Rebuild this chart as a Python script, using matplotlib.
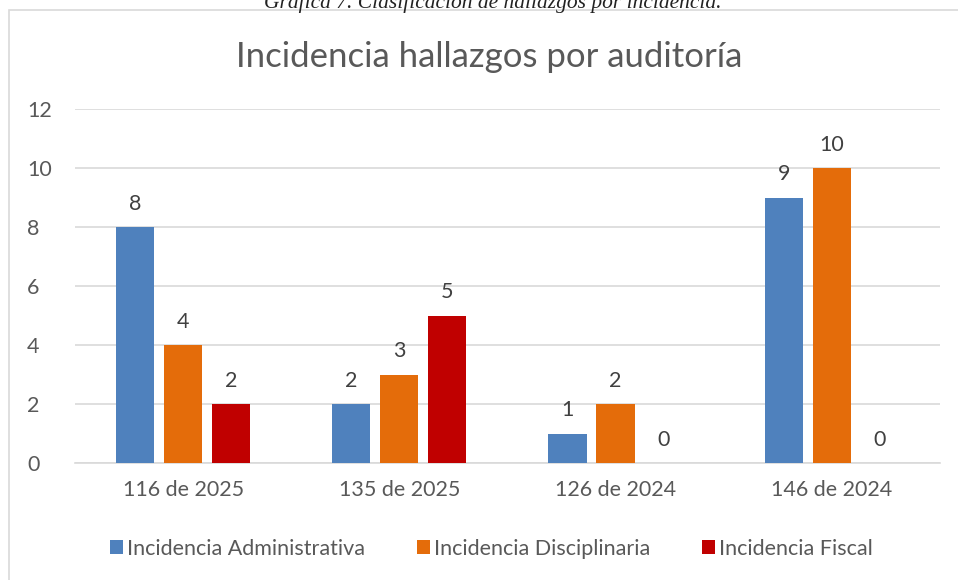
import matplotlib.pyplot as plt
import numpy as np
from matplotlib.patches import Rectangle

categories = ["116 de 2025", "135 de 2025", "126 de 2024", "146 de 2024"]
series_names = ["Incidencia Administrativa", "Incidencia Disciplinaria", "Incidencia Fiscal"]
administrativa = [8, 2, 1, 9]
disciplinaria = [4, 3, 2, 10]
fiscal = [2, 5, 0, 0]
colors = ["#4F81BD", "#E46C0A", "#C00000"]


def main():
    plt.rcParams['font.family'] = ['Lato', 'DejaVu Sans']
    fig = plt.figure(figsize=(9.58, 5.8), dpi=100)
    ax = fig.add_axes([0.0783, 0.2017, 0.9027, 0.6103])

    # outer chart frame (cut at right/bottom edges like the page crop)
    fig.patches.append(Rectangle((9 / 958, -0.01), 1.0, 1 - 10 / 580 + 0.01,
                                 transform=fig.transFigure, fill=False,
                                 edgecolor="#D9D9D9", linewidth=1.2))

    fig.text(0.514, 1 - 8 / 580, "Gráfica 7. Clasificación de hallazgos por incidencia.",
             ha="center", va="baseline", fontsize=15.5, style="italic",
             family="Liberation Serif", color="#222222")

    x = np.arange(len(categories))
    width = 0.176
    step = 0.222
    all_series = [administrativa, disciplinaria, fiscal]
    for i, (vals, name, c) in enumerate(zip(all_series, series_names, colors)):
        pos = x + (i - 1) * step
        bars = ax.bar(pos, vals, width, color=c, label=name, zorder=3)
        for b, v in zip(bars, vals):
            ax.text(b.get_x() + b.get_width() / 2, v + 0.45, str(v),
                    ha="center", va="bottom", fontsize=15.5, color="#404040")

    ax.set_xlim(-0.5, 3.5)
    ax.set_ylim(0, 12)
    ax.set_yticks(range(0, 13, 2))
    ax.set_xticks(x)
    ax.set_xticklabels(categories)
    ax.tick_params(axis="both", length=0, labelsize=15.5, labelcolor="#595959")
    ax.tick_params(axis="y", pad=34.5)
    ax.tick_params(axis="x", pad=12)
    for lbl in ax.get_yticklabels():
        lbl.set_horizontalalignment("left")
    ax.grid(axis="y", color="#D9D9D9", linewidth=1.2, zorder=0)
    for s in ["top", "right", "left"]:
        ax.spines[s].set_visible(False)
    ax.spines["bottom"].set_color("#D9D9D9")
    ax.spines["bottom"].set_linewidth(1.2)

    fig.text(0.511, 0.902, "Incidencia hallazgos por auditoría", ha="center",
             va="center", fontsize=25, color="#595959")

    fig.legend(loc="center", bbox_to_anchor=(0.513, 0.054), ncol=3, frameon=False,
               fontsize=15.5, handlelength=0.6, handleheight=0.6, handletextpad=0.2,
               columnspacing=2.4, labelcolor="#595959")

    fig.savefig("out.png", dpi=100)


if __name__ == "__main__":
    main()
